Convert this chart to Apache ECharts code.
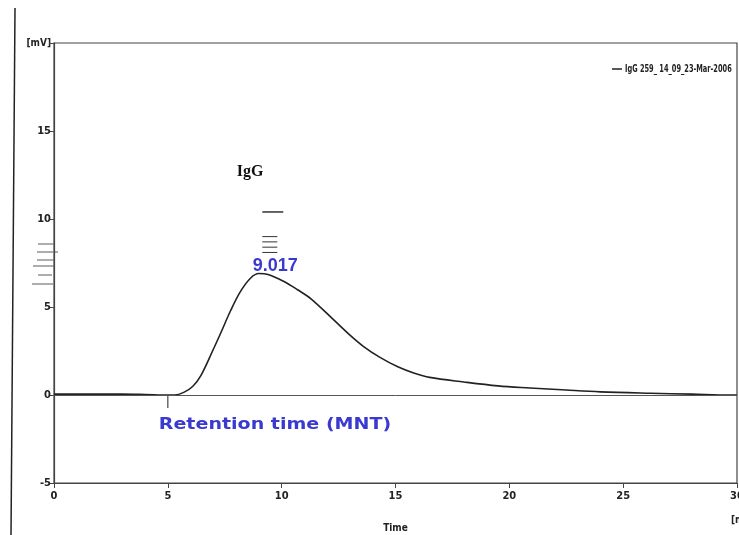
<!DOCTYPE html>
<html><head><meta charset="utf-8">
<script src="https://cdn.jsdelivr.net/npm/echarts@6/dist/echarts.min.js"></script>
<style>html,body{margin:0;padding:0;background:#fff}#c{width:739px;height:535px}</style>
</head><body><div id="c"></div>
<script>
const seriesName = 'IgG 259_ 14_09_23-Mar-2006';
const timeMin = [0, 1, 2, 3, 4, 5, 5.3, 5.7, 6.1, 6.45, 7.0, 7.3, 7.76, 8.2, 8.64, 9.0, 9.4, 10.1, 10.7, 11.3, 12.3, 13.0, 13.6, 14.3, 15.1, 15.8, 16.5, 18.0, 19.5, 20.9, 22.5, 24.0, 26.2, 28.0, 29.7, 30];
const voltage = [0.05, 0.05, 0.05, 0.05, 0.03, 0.0, 0.0, 0.15, 0.5, 1.1, 2.6, 3.45, 4.8, 5.9, 6.65, 6.9, 6.85, 6.45, 5.98, 5.45, 4.25, 3.4, 2.75, 2.15, 1.6, 1.25, 1.0, 0.74, 0.52, 0.4, 0.28, 0.18, 0.1, 0.05, 0, 0];
const peakTime = 9.017;
const yTicks = [-5, 0, 5, 10, 15, 20];
const xTicks = [0, 5, 10, 15, 20, 25, 30];

const narrow = "'Liberation Sans Narrow', 'DejaVu Sans Condensed', 'Liberation Sans', sans-serif";
const chart = echarts.init(document.getElementById('c'));
const data = timeMin.map((t, i) => [t, voltage[i]]);

chart.setOption({
  animation: false,
  backgroundColor: '#fff',
  grid: { left: 54, right: 2, top: 43, bottom: 52, show: true, borderColor: '#444', borderWidth: 1.2,
    containLabel: false, outerBoundsMode: 'none' },
  legend: { show: false, data: [seriesName] },
  xAxis: {
    type: 'value', min: 0, max: 30, interval: 5,
    name: 'Time', nameLocation: 'middle', nameGap: 40,
    nameTextStyle: { fontFamily: narrow, fontWeight: 'bold', fontSize: 10, color: '#222' },
    axisLine: { onZero: false, lineStyle: { color: '#444', width: 1.2 } },
    axisTick: { show: true, length: 5, lineStyle: { color: '#444' } },
    axisLabel: { fontFamily: narrow, fontWeight: 'bold', fontSize: 11, color: '#222', margin: 8,
      formatter: v => xTicks.includes(v) ? String(v) : '' },
    splitLine: { show: false }
  },
  yAxis: {
    type: 'value', min: -5, max: 20, interval: 5,
    axisLine: { show: true, lineStyle: { color: '#444', width: 1.2 } },
    axisTick: { show: true, length: 5, lineStyle: { color: '#444' } },
    axisLabel: { fontFamily: narrow, fontWeight: 'bold', fontSize: 11, color: '#222', margin: 3,
      formatter: v => (v === 20 ? '' : (yTicks.includes(v) ? String(v) : '')) },
    splitLine: { show: false }
  },
  series: [{
    name: seriesName, type: 'line', data: data, smooth: 0.35, showSymbol: false,
    lineStyle: { color: '#222', width: 1.6 }, itemStyle: { color: '#222' },
    markLine: {
      silent: true, symbol: 'none', label: { show: false },
      lineStyle: { color: '#555', width: 1, type: 'solid' },
      data: [{ yAxis: 0 }]
    }
  }]
});

const px = (x, y) => chart.convertToPixel({ gridIndex: 0 }, [x, y]);
const peak = px(peakTime, 6.9);
const t5 = px(5, 0);
const dashes = [10.4, 9.0, 8.7, 8.4, 8.1].map((v, i) => {
  const p = px(peakTime, v);
  return { type: 'line', shape: { x1: p[0] + 3, y1: p[1], x2: p[0] + (i === 0 ? 24 : 18), y2: p[1] },
    style: { stroke: '#333', lineWidth: i === 0 ? 1.5 : 1 } };
});
const leftMarks = [[38, 244, 55], [37, 252, 58], [37, 260, 55], [33, 266, 55], [38, 275, 52], [32, 284, 53]].map(m => ({
  type: 'line', shape: { x1: m[0], y1: m[1], x2: m[2], y2: m[1] }, style: { stroke: '#777', lineWidth: 1.2 }
}));

chart.setOption({
  graphic: [
    { type: 'line', shape: { x1: 15, y1: 8, x2: 11, y2: 535 }, style: { stroke: '#222', lineWidth: 1.5 } },
    { type: 'text', x: 51, y: 43, style: { text: '[mV]', fontFamily: narrow, fontWeight: 'bold', fontSize: 10, fill: '#222', align: 'right', verticalAlign: 'middle' } },
    { type: 'text', x: 731, y: 520, style: { text: '[min]', fontFamily: narrow, fontWeight: 'bold', fontSize: 10, fill: '#222', align: 'left', verticalAlign: 'middle' } },
    { type: 'line', shape: { x1: 612, y1: 69, x2: 622, y2: 69 }, style: { stroke: '#222', lineWidth: 1.5 } },
    { type: 'text', x: 625, y: 69, scaleX: 0.7, style: { text: seriesName, fontFamily: narrow, fontWeight: 'bold', fontSize: 10.5, fill: '#222', align: 'left', verticalAlign: 'middle' } },
    { type: 'text', x: 250, y: 172, style: { text: 'IgG', fontFamily: "'Liberation Serif', serif", fontWeight: 'bold', fontSize: 16, fill: '#111', align: 'center', verticalAlign: 'middle' } },
    { type: 'text', x: peak[0] + 16, y: peak[1] - 8, style: { text: '9.017', fontFamily: "'Liberation Sans', Arial, sans-serif", fontWeight: 'bold', fontSize: 18, fill: '#3a3ad0', align: 'center', verticalAlign: 'middle' } },
    { type: 'text', x: 275, y: 425, scaleX: 1.27, style: { text: 'Retention time (MNT)', fontFamily: "'DejaVu Sans', sans-serif", fontWeight: 'bold', fontSize: 15, fill: '#3a3ad0', align: 'center', verticalAlign: 'middle' } },
    { type: 'line', shape: { x1: t5[0], y1: t5[1], x2: t5[0], y2: t5[1] + 13 }, style: { stroke: '#444', lineWidth: 1.2 } }
  ].concat(dashes, leftMarks)
});
</script></body></html>
